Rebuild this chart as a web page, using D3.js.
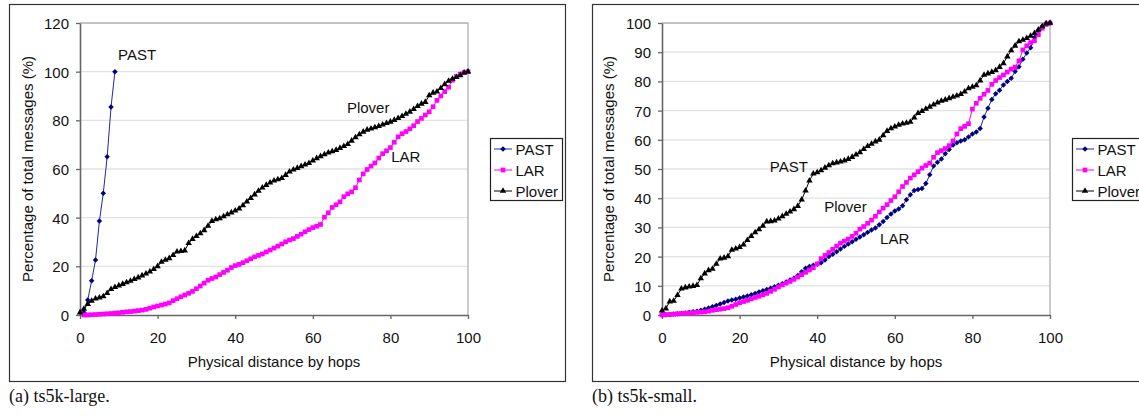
<!DOCTYPE html>
<html>
<head>
<meta charset="utf-8">
<script src="https://cdn.jsdelivr.net/npm/d3@7"></script>
<style>
  body { margin: 0; background: #fff; }
  svg text { font-family: "Liberation Sans", Arial, sans-serif; fill: #111; }
  .caption { font-family: "Liberation Serif", "Times New Roman", serif; }
</style>
</head>
<body>
<svg id="fig" width="1139" height="417"></svg>
<script>
// ---- data ----------------------------------------------------------------
const seriesNames = ["PAST", "LAR", "Plover"];
const xTicks = [0, 20, 40, 60, 80, 100];
const largeYTicks = [0, 20, 40, 60, 80, 100, 120];
const smallYTicks = [0, 10, 20, 30, 40, 50, 60, 70, 80, 90, 100];

const hopsFrom0 = d3.range(0, 101);
const hopsFrom1 = d3.range(1, 101);

// (a) ts5k-large
const largePastHops = [1, 2, 3, 4, 5, 6, 7, 8, 9];
const largePastPct  = [1, 6.2, 14.1, 22.6, 38.6, 50, 65, 85.5, 100];

const largeLarPct = [
  0, 0, 0.1, 0.2, 0.3, 0.4, 0.5, 0.6, 0.8, 0.9,
  1.1, 1.3, 1.4, 1.6, 1.8, 2.0, 2.3, 2.8, 3.3, 3.7,
  4.1, 4.5, 5.0, 5.9, 6.7, 7.5, 8.2, 8.9, 9.7, 10.8,
  11.9, 13.1, 14.3, 15.0, 15.6, 16.6, 17.5, 18.4, 19.5, 20.3,
  20.8, 21.5, 22.3, 23.1, 23.9, 24.5, 25.1, 25.9, 26.7, 27.5,
  28.3, 29.2, 30.1, 30.8, 31.4, 32.3, 33.2, 34.2, 35.1, 35.9,
  36.5, 37.2, 40.2, 42.0, 44.2, 45.3, 46.5, 48.6, 49.8, 50.6,
  52.3, 55.5, 58.0, 59.8, 61.2, 62.5, 64.5, 66.3, 67.5, 68.8,
  71.0, 73.2, 74.5, 75.4, 76.5, 77.8, 79.5, 80.8, 82.2, 83.5,
  85.6, 88.2, 90.0, 91.8, 93.6, 96.5, 98.0, 99.0, 99.6, 100
];

const largePloverPct = [
  1.0,
  2.5, 4.5, 5.8, 6.7, 7.1, 7.6, 9.0, 10.6, 11.4, 12.1,
  12.7, 13.4, 14.0, 14.7, 15.4, 16.2, 17.0, 17.8, 18.8, 20.0,
  21.8, 22.6, 23.3, 24.6, 26.0, 26.2, 26.5, 29.5, 31.2, 32.4,
  33.5, 34.8, 36.6, 38.6, 39.3, 39.7, 40.5, 41.3, 42.1, 42.9,
  43.7, 45.0, 46.6, 48.0, 49.5, 51.0, 52.3, 53.4, 54.4, 55.2,
  55.7, 56.2, 57.5, 58.9, 59.7, 60.4, 61.1, 61.8, 62.4, 63.4,
  64.4, 65.2, 66.0, 66.7, 67.2, 67.8, 68.6, 69.4, 70.2, 71.6,
  73.0, 74.2, 75.3, 76.1, 76.6, 77.1, 77.6, 78.2, 78.8, 79.4,
  80.1, 80.9, 81.7, 82.6, 83.5, 84.6, 85.8, 86.8, 87.5, 90.2,
  91.3, 91.8, 93.2, 94.8, 96.2, 97.0, 97.7, 98.5, 99.6, 100
];

// (b) ts5k-small
const smallPastPct = [
  0,
  0.1, 0.2, 0.3, 0.4, 0.5, 0.7, 0.9, 1.1, 1.3, 1.6,
  2.0, 2.4, 2.8, 3.3, 3.8, 4.3, 4.8, 5.1, 5.4, 5.8,
  6.2, 6.5, 6.9, 7.4, 7.9, 8.3, 8.7, 9.2, 9.7, 10.2,
  10.7, 11.3, 12.0, 12.6, 13.5, 14.8, 16.0, 16.6, 17.0, 17.4,
  17.9, 18.8, 20.0, 20.8, 21.7, 22.6, 23.5, 24.3, 25.1, 25.9,
  26.7, 27.5, 28.3, 29.1, 29.8, 30.9, 32.0, 33.4, 34.6, 35.6,
  36.3, 37.4, 39.5, 41.2, 42.6, 43.0, 43.3, 45.0, 48.0, 51.0,
  52.3, 53.4, 55.2, 56.7, 58.2, 59.0, 59.6, 60.0, 61.0, 62.0,
  62.7, 63.9, 67.8, 70.8, 73.8, 75.8, 77.0, 78.8, 80.0, 81.1,
  83.4, 85.0, 87.6, 89.7, 91.5, 95.0, 97.5, 98.9, 99.9, 100
];

const smallLarPct = [
  0,
  0.1, 0.2, 0.3, 0.4, 0.5, 0.6, 0.7, 0.8, 0.9, 1.0,
  1.1, 1.3, 1.6, 1.8, 2.0, 2.2, 2.5, 3.0, 3.6, 4.2,
  4.6, 5.0, 5.5, 6.0, 6.4, 6.9, 7.4, 8.1, 8.8, 9.6,
  10.3, 10.9, 11.5, 12.2, 13.0, 13.8, 14.6, 15.4, 16.2, 17.5,
  19.3, 20.4, 21.4, 22.5, 23.6, 24.6, 25.3, 26.0, 26.9, 28.0,
  29.4, 30.3, 31.4, 32.5, 33.8, 35.3, 36.6, 37.8, 39.2, 40.5,
  42.2, 44.0, 45.4, 46.9, 48.0, 49.1, 50.3, 51.2, 52.0, 54.0,
  55.6, 56.3, 57.0, 58.0, 59.6, 62.0, 63.8, 64.6, 65.5, 70.5,
  72.5, 74.2, 75.6, 76.9, 79.0, 80.3, 81.3, 82.2, 83.2, 84.2,
  84.9, 87.0, 90.8, 92.2, 93.3, 93.9, 96.0, 98.2, 99.5, 100
];

const smallPloverPct = [
  1.5,
  2.2, 4.6, 4.8, 6.8, 9.0, 9.4, 9.7, 9.9, 10.2, 12.5,
  14.2, 15.3, 15.8, 17.5, 19.3, 19.6, 20.1, 22.3, 22.7, 23.2,
  24.1, 25.6, 27.0, 28.3, 29.3, 30.5, 32.0, 32.1, 32.3, 33.0,
  33.8, 34.6, 35.4, 36.2, 37.3, 39.5, 42.6, 46.0, 48.4, 48.8,
  49.5, 50.4, 51.2, 51.9, 52.2, 52.5, 52.9, 53.4, 54.1, 54.9,
  55.7, 56.8, 57.8, 58.6, 59.4, 60.0, 61.5, 63.0, 63.9, 64.5,
  65.1, 65.5, 65.8, 66.1, 67.6, 69.1, 69.8, 70.6, 71.3, 72.0,
  72.7, 73.3, 73.7, 74.2, 74.7, 75.1, 75.6, 76.5, 77.6, 78.1,
  78.6, 80.3, 82.2, 82.7, 83.2, 83.8, 84.9, 86.2, 88.5, 90.6,
  92.2, 93.7, 94.2, 94.8, 95.6, 96.5, 97.7, 98.8, 99.8, 100
];

// curve labels placed in data coordinates [text, hop, percent]
const largeLabels = [["PAST", 9.8, 104.8], ["Plover", 68.8, 83], ["LAR", 80.2, 62.9]];
const smallLabels = [["PAST", 27.8, 49], ["Plover", 41.8, 35.3], ["LAR", 56.2, 24.3]];

// ---- styles --------------------------------------------------------------
const style = {
  PAST:   { line: "#1f2a9e", fill: "#000080", symbol: "diamond", size: 15 },
  LAR:    { line: "#ff00ff", fill: "#ff00ff", symbol: "square", size: 22 },
  Plover: { line: "#000000", fill: "#000000", symbol: "triangle", size: 18 }
};

function symbolPath(kind, size) {
  if (kind === "triangle") return d3.symbol(d3.symbolTriangle, size)();
  return d3.symbol(d3.symbolSquare, size)();
}
function symbolTransform(kind, x, y) {
  return kind === "diamond" ? `translate(${x},${y}) rotate(45)` : `translate(${x},${y})`;
}

const svg = d3.select("#fig");

function drawPanel(cfg) {
  const g = svg.append("g");

  // outer frame
  g.append("rect")
    .attr("x", cfg.frame[0]).attr("y", cfg.frame[1])
    .attr("width", cfg.frame[2]).attr("height", cfg.frame[3])
    .attr("fill", "none").attr("stroke", "#333").attr("stroke-width", 1.2);

  const x = d3.scaleLinear().domain([0, 100]).range([cfg.left, cfg.right]);
  const y = d3.scaleLinear().domain([0, cfg.yMax]).range([cfg.bottom, cfg.top]);

  // gridlines
  g.append("g").selectAll("line")
    .data(cfg.yTicks.filter(t => t > 0 && t < cfg.yMax))
    .join("line")
    .attr("x1", cfg.left).attr("x2", cfg.right)
    .attr("y1", d => y(d)).attr("y2", d => y(d))
    .attr("stroke", "#e2e2e2").attr("stroke-width", 1.3);

  // plot-area border (top, right)
  g.append("path")
    .attr("d", `M${cfg.left},${y(cfg.yMax)}H${cfg.right}V${cfg.bottom}`)
    .attr("fill", "none").attr("stroke", "#b0b0b0").attr("stroke-width", 1.3);

  // axes
  const xAxis = g.append("g").attr("transform", `translate(0,${cfg.bottom})`)
    .call(d3.axisBottom(x).tickValues(xTicks).tickSize(4).tickSizeOuter(0));
  xAxis.select(".domain").attr("stroke", "#666").attr("stroke-width", 1.6);
  xAxis.selectAll(".tick line").attr("stroke", "#666").attr("stroke-width", 1.3);
  xAxis.selectAll(".tick text")
    .attr("y", 28).attr("dy", 0)
    .style("font-size", "15px").style("font-family", "Liberation Sans, Arial, sans-serif").attr("fill", "#111");

  const yAxis = g.append("g").attr("transform", `translate(${cfg.left},0)`)
    .call(d3.axisLeft(y).tickValues(cfg.yTicks).tickSize(4).tickSizeOuter(0));
  yAxis.select(".domain").attr("stroke", "#666").attr("stroke-width", 1.6);
  yAxis.selectAll(".tick line").attr("stroke", "#666").attr("stroke-width", 1.3);
  yAxis.selectAll(".tick text")
    .attr("x", -11).attr("dy", "0.36em")
    .style("font-size", "15px").style("font-family", "Liberation Sans, Arial, sans-serif").attr("fill", "#111");

  // axis titles
  g.append("text")
    .attr("x", (cfg.left + cfg.right) / 2).attr("y", 367)
    .attr("text-anchor", "middle").style("font-size", "15px")
    .text("Physical distance by hops");
  g.append("text")
    .attr("transform", `translate(${cfg.yTitleX},${(cfg.top + cfg.bottom) / 2}) rotate(-90)`)
    .attr("text-anchor", "middle").style("font-size", "15px")
    .text("Percentage of total messages (%)");

  // series: line first, then markers
  const line = d3.line().x(d => x(d[0])).y(d => y(d[1]));
  cfg.series.forEach(s => {
    const st = style[s.name];
    const pts = s.hops.map((h, i) => [h, s.pct[i]]);
    const sg = g.append("g");
    sg.append("path").datum(pts)
      .attr("d", line).attr("fill", "none")
      .attr("stroke", st.line).attr("stroke-width", 1);
    sg.selectAll("path.m").data(pts).join("path")
      .attr("class", "m")
      .attr("d", symbolPath(st.symbol, st.size))
      .attr("transform", d => symbolTransform(st.symbol, x(d[0]), y(d[1])))
      .attr("fill", st.fill);
  });

  // curve labels
  g.append("g").selectAll("text").data(cfg.labels).join("text")
    .attr("x", d => x(d[1])).attr("y", d => y(d[2]))
    .style("font-size", "15px")
    .text(d => d[0]);

  // legend
  const lg = g.append("g");
  lg.append("rect")
    .attr("x", cfg.legend[0]).attr("y", cfg.legend[1])
    .attr("width", cfg.legend[2]).attr("height", 62)
    .attr("fill", "#fff").attr("stroke", "#222").attr("stroke-width", 1.2);
  seriesNames.forEach((name, i) => {
    const st = style[name];
    const ry = cfg.legend[1] + 10.5 + i * 21;
    const lx = cfg.legend[0] + 3.5;
    lg.append("line")
      .attr("x1", lx).attr("x2", lx + 18).attr("y1", ry).attr("y2", ry)
      .attr("stroke", st.line).attr("stroke-width", 1);
    lg.append("path")
      .attr("d", symbolPath(st.symbol, st.size))
      .attr("transform", symbolTransform(st.symbol, lx + 9, ry))
      .attr("fill", st.fill);
    lg.append("text")
      .attr("x", lx + 21.5).attr("y", ry + 5.5)
      .style("font-size", "15px")
      .text(name);
  });

  // caption
  g.append("text").attr("class", "caption")
    .attr("x", cfg.frame[0] - 0.5).attr("y", 402)
    .style("font-size", "18px")
    .text(cfg.caption);
}

drawPanel({
  frame: [9.5, 4.5, 556, 377],
  left: 80, right: 468, top: 23, bottom: 315,
  yMax: 120, yTicks: largeYTicks, yTitleX: 33,
  series: [
    { name: "PAST", hops: largePastHops, pct: largePastPct },
    { name: "LAR", hops: hopsFrom1, pct: largeLarPct },
    { name: "Plover", hops: hopsFrom0, pct: largePloverPct }
  ],
  labels: largeLabels,
  legend: [490.5, 138.5, 72],
  caption: "(a) ts5k-large."
});

drawPanel({
  frame: [592.5, 4.5, 600, 377],
  left: 662, right: 1050, top: 23, bottom: 315,
  yMax: 100, yTicks: smallYTicks, yTitleX: 614,
  series: [
    { name: "PAST", hops: hopsFrom0, pct: smallPastPct },
    { name: "LAR", hops: hopsFrom0, pct: smallLarPct },
    { name: "Plover", hops: hopsFrom0, pct: smallPloverPct }
  ],
  labels: smallLabels,
  legend: [1072.5, 138.5, 80],
  caption: "(b) ts5k-small."
});
</script>
</body>
</html>
